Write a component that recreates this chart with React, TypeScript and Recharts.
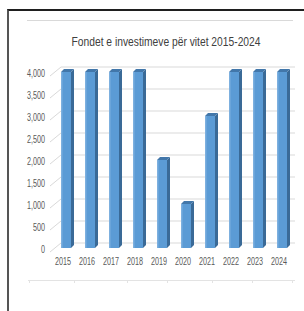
import { BarChart, Bar, XAxis, YAxis, CartesianGrid } from "recharts";

const years = ["2015", "2016", "2017", "2018", "2019", "2020", "2021", "2022", "2023", "2024"];
const funds = [4000, 4000, 4000, 4000, 2000, 1000, 3000, 4000, 4000, 4000];
const yTicks = [0, 500, 1000, 1500, 2000, 2500, 3000, 3500, 4000];

const data = years.map((year, i) => ({ year, value: funds[i] }));

const FONT = "'Liberation Sans', Arial, sans-serif";
const TEXT = "#595959";
const DEPTH = 3;
const SQUEEZE = 0.72; // fake a narrow font (Calibri-ish look)

// bar with a little 3d side and top, like the excel original
const Bar3D = (props: any) => {
  const { x, y, width, height } = props;
  if (!height) return null;
  const d = DEPTH;
  return (
    <g>
      <polygon
        points={`${x + width},${y} ${x + width + d},${y - d} ${x + width + d},${y + height - d} ${x + width},${y + height}`}
        fill="#3A6A97"
      />
      <polygon
        points={`${x},${y} ${x + d},${y - d} ${x + width + d},${y - d} ${x + width},${y}`}
        fill="#4277AA"
      />
      <rect x={x} y={y} width={width} height={height} fill="#5B9BD5" />
      <rect x={x} y={y} width={1.5} height={height} fill="#7DB0DF" />
    </g>
  );
};

// back-wall gridline with a short floor diagonal on the left
const GridLine = (props: any) => {
  const { x1, x2, y1 } = props;
  return (
    <g>
      <line x1={x1 - 4} y1={y1 + 4} x2={x1 + 7} y2={y1 - 5} stroke="#D9D9D9" strokeWidth={1} />
      <line x1={x1 + 7} y1={y1 - 5} x2={x2 + 1} y2={y1 - 5} stroke="#D9D9D9" strokeWidth={1} />
    </g>
  );
};

const YTick = (props: any) => {
  const { y, payload } = props;
  return (
    <text
      transform={`translate(45,${y + 2}) scale(${SQUEEZE},1)`}
      textAnchor="end"
      dominantBaseline="central"
      fontSize={10}
      fill={TEXT}
      fontFamily={FONT}
    >
      {payload.value.toLocaleString("en-US")}
    </text>
  );
};

const XTick = (props: any) => {
  const { x, payload } = props;
  return (
    <text
      transform={`translate(${x - 3},262) scale(${SQUEEZE},1)`}
      textAnchor="middle"
      dominantBaseline="central"
      fontSize={10}
      fill={TEXT}
      fontFamily={FONT}
    >
      {payload.value}
    </text>
  );
};

const bottomTicks = [29, 74, 127, 167, 212, 252, 292];

export default function App() {
  return (
    <div style={{ position: "absolute", left: 0, top: 0, width: 304, height: 311, background: "#fff" }}>
      <div
        style={{
          position: "absolute",
          left: 7,
          top: 9,
          width: 297,
          height: 302,
          borderTop: "2px solid #1f1f1f",
          borderLeft: "2px solid #555",
          boxSizing: "border-box",
        }}
      />
      <div style={{ position: "absolute", left: 27, top: 20, width: 266, height: 1, background: "#D9D9D9" }} />
      <div
        style={{
          position: "absolute",
          left: 0,
          width: 332,
          top: 33,
          textAlign: "center",
          fontFamily: FONT,
          fontSize: 13,
          color: "#404040",
          lineHeight: "18px",
          whiteSpace: "nowrap",
          transform: "scaleX(0.79)",
          transformOrigin: "166px 0",
        }}
      >
        Fondet e investimeve për vitet 2015-2024
      </div>
      <div style={{ position: "absolute", left: 0, top: 0 }}>
        <BarChart width={304} height={311} data={data} margin={{ top: 72, right: 10, bottom: 33, left: 0 }}>
          <CartesianGrid vertical={false} horizontal={(p: any) => <GridLine key={p.key} {...p} />} />
          <YAxis
            width={54}
            domain={[0, 4000]}
            ticks={yTicks}
            interval={0}
            axisLine={false}
            tickLine={false}
            tick={<YTick />}
          />
          <XAxis dataKey="year" height={30} axisLine={false} tickLine={false} tick={<XTick />} interval={0} />
          <Bar dataKey="value" barSize={10} shape={<Bar3D />} isAnimationActive={false} />
        </BarChart>
      </div>
      <div style={{ position: "absolute", left: 28, top: 280, width: 267, height: 1, background: "#E3E3E3" }} />
      {bottomTicks.map((bx) => (
        <div key={bx} style={{ position: "absolute", left: bx, top: 280, width: 1, height: 3, background: "#E3E3E3" }} />
      ))}
    </div>
  );
}
